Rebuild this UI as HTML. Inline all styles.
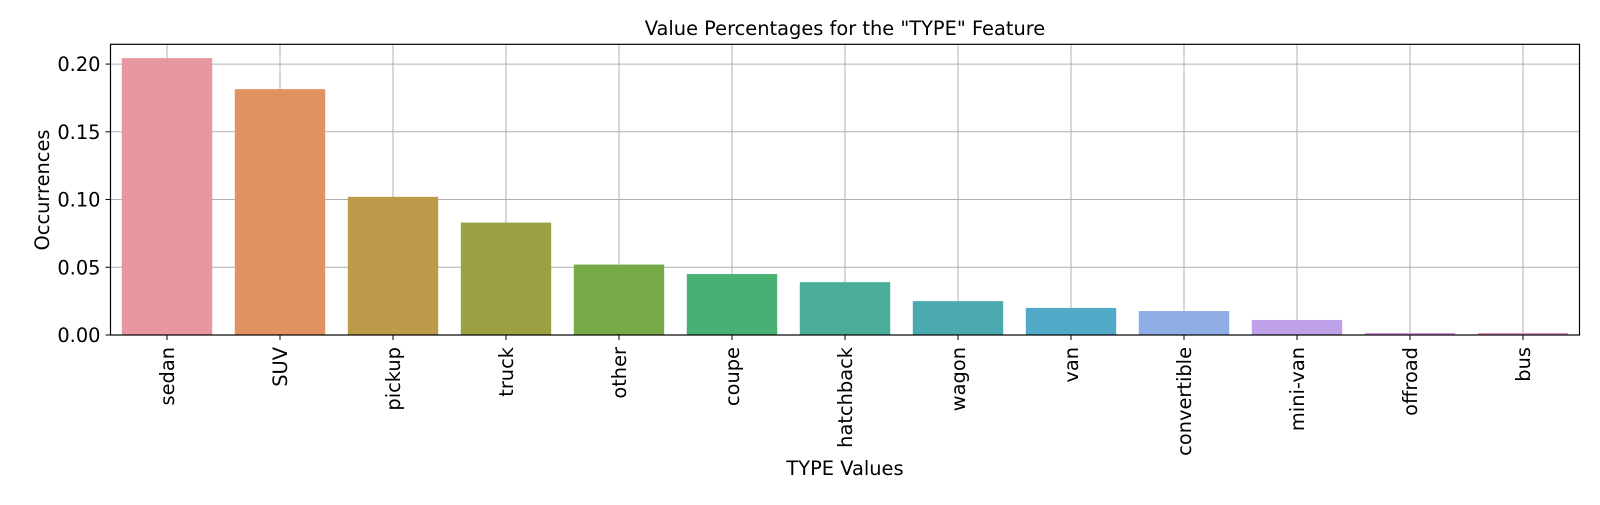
<!DOCTYPE html>
<html><head><meta charset="utf-8"><style>
body{margin:0;background:#fff}
svg text{font-family:"DejaVu Sans","Liberation Sans",sans-serif;fill:#000}
</style></head><body>
<svg id="chart" width="1600" height="500" xmlns="http://www.w3.org/2000/svg">
<rect width="1600" height="500" fill="#fff"/>
<g id="grid"></g><g id="bars"></g><g id="axes"></g>
<text x="845" y="35" font-size="19.4" text-anchor="middle">Value Percentages for the "TYPE" Feature</text>
<text x="845" y="475" font-size="19.4" text-anchor="middle">TYPE Values</text>
<text transform="translate(49,190) rotate(-90)" font-size="19.4" text-anchor="middle">Occurrences</text>
</svg>
<script>
const categories=["sedan","SUV","pickup","truck","other","coupe","hatchback","wagon","van","convertible","mini-van","offroad","bus"];
const values=[0.2044,0.1815,0.102,0.083,0.052,0.045,0.039,0.025,0.020,0.0177,0.0111,0.0015,0.0015];
const colors=["#e8969f","#e19261","#bc9b4a","#9ba043","#77a948","#48b073","#4aad9a","#4aaab0","#51aac8","#8faee6","#bea1e8","#d88fe0","#e58fc0"];
const yTicks=[0,0.05,0.10,0.15,0.20];
const yTickLabels=["0.00","0.05","0.10","0.15","0.20"];
const L=110.5,R=1579.5,T=44.3,B=335,yMax=0.2146;
const NS="http://www.w3.org/2000/svg";
const step=(R-L)/categories.length;
const xs=i=>L+step*(i+0.5);
const ys=v=>B-(v/yMax)*(B-T);
function mk(t,a,p){const e=document.createElementNS(NS,t);for(const k in a)e.setAttribute(k,a[k]);p.appendChild(e);return e;}
const grid=document.getElementById('grid'),bars=document.getElementById('bars'),axes=document.getElementById('axes');
yTicks.forEach((v,i)=>{
  const g=mk('line',{x1:L,x2:R,y1:ys(v),y2:ys(v),stroke:'#b0b0b0','stroke-width':1},grid);
  
  
  mk('line',{x1:L-5,x2:L,y1:ys(v),y2:ys(v),stroke:'#000'},axes);
  const t=mk('text',{x:L-10,y:ys(v)+7,'font-size':19.4,'text-anchor':'end'},axes);
  t.textContent=yTickLabels[i];
  
  
});
categories.forEach((c,i)=>{
  const x=xs(i);
  const gl=mk('line',{x1:x,x2:x,y1:T,y2:B,stroke:'#b0b0b0','stroke-width':1},grid);
  
  
  const w=step*0.8;
  const b=mk('rect',{x:x-w/2,y:ys(values[i]),width:w,height:B-ys(values[i]),fill:colors[i]},bars);
  
  
  mk('line',{x1:x,x2:x,y1:B,y2:B+5,stroke:'#000'},axes);
  const t=mk('text',{transform:`translate(${x+7},${B+12}) rotate(-90)`,'font-size':19.4,'text-anchor':'end'},axes);
  t.textContent=c;
  
  
});
const fr=mk('rect',{x:L,y:T,width:R-L,height:B-T,fill:'none',stroke:'#000','stroke-width':1.2},axes);


</script>
</body></html>
